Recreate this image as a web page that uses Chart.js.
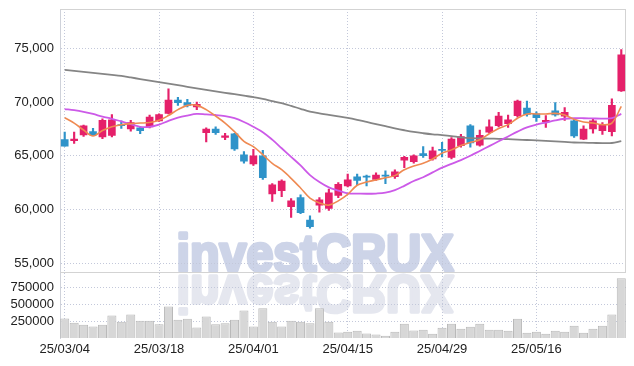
<!DOCTYPE html>
<html>
<head>
<meta charset="utf-8">
<script src="https://cdn.jsdelivr.net/npm/chart.js@4"></script>
<style>
  html, body { margin: 0; padding: 0; background: #fff; }
  canvas { display: block; }
</style>
</head>
<body>
<canvas id="stock-chart" width="634" height="366"></canvas>
<script>
// trading days shown on the x axis
const dates = [
  '25/03/04', '25/03/05', '25/03/06', '25/03/07', '25/03/10', '25/03/11', '25/03/12', '25/03/13', '25/03/14', '25/03/17',
  '25/03/18', '25/03/19', '25/03/20', '25/03/21', '25/03/24', '25/03/25', '25/03/26', '25/03/27', '25/03/28', '25/03/31',
  '25/04/01', '25/04/02', '25/04/03', '25/04/04', '25/04/07', '25/04/08', '25/04/09', '25/04/10', '25/04/11', '25/04/14',
  '25/04/15', '25/04/16', '25/04/17', '25/04/18', '25/04/21', '25/04/22', '25/04/23', '25/04/24', '25/04/25', '25/04/28',
  '25/04/29', '25/04/30', '25/05/02', '25/05/07', '25/05/08', '25/05/09', '25/05/12', '25/05/13', '25/05/14', '25/05/15',
  '25/05/16', '25/05/19', '25/05/20', '25/05/21', '25/05/22', '25/05/23', '25/05/26', '25/05/27', '25/05/28', '25/05/29'
];

const opens = [
  66500, 66400, 66950, 67250, 66750, 66900, 67900, 67500, 67600, 67700,
  68250, 68950, 70200, 69950, 69550, 67150, 67500, 66700, 67050, 65100,
  64250, 65000, 61450, 61750, 60250, 61100, 59000, 60400, 60100, 61300,
  62200, 63050, 63100, 62800, 63200, 63050, 64600, 64450, 65200, 64700,
  65600, 64850, 65950, 67800, 66000, 67200, 67800, 68000, 68750, 69450,
  68900, 68150, 69200, 68700, 68250, 66550, 67500, 67350, 67250, 71050
];
const highs = [
  67200, 67200, 67850, 67550, 68450, 68850, 68250, 68300, 67650, 68800,
  68900, 71250, 70450, 70250, 70000, 67600, 67700, 67100, 67100, 65400,
  65600, 65500, 62400, 62750, 61000, 61350, 59400, 61100, 61900, 62500,
  63300, 63300, 63200, 63400, 63600, 63700, 64950, 65100, 65850, 65800,
  66250, 66700, 67000, 67900, 67400, 68350, 69050, 68800, 70200, 70100,
  69100, 68750, 69950, 69500, 68500, 67800, 68400, 68100, 70300, 74900
];
const lows = [
  65900, 66150, 66800, 66900, 66600, 66750, 67550, 67300, 67050, 67600,
  68200, 68900, 69700, 69550, 69300, 66300, 67000, 66500, 65500, 64300,
  64100, 62800, 60750, 61200, 59250, 59600, 58250, 59750, 59900, 61100,
  62100, 62300, 62200, 62700, 62400, 62900, 63900, 64300, 64850, 64600,
  64900, 64700, 65800, 65800, 65900, 67100, 67700, 67650, 68600, 68700,
  68200, 67650, 68700, 68300, 66700, 66500, 67100, 67000, 66850, 71000
];
const closes = [
  65900, 66550, 67800, 66950, 68300, 68350, 67800, 68100, 67350, 68600,
  68850, 70200, 69950, 69700, 69800, 67500, 67150, 66850, 65650, 64500,
  65000, 62950, 62300, 62650, 60800, 59700, 58400, 60900, 61550, 62350,
  62750, 62700, 63000, 63200, 63100, 63500, 64850, 65000, 65000, 65450,
  65500, 66550, 66800, 66200, 66900, 67700, 68700, 68350, 70100, 68850,
  68550, 68300, 68800, 69050, 66850, 67500, 68250, 67900, 69700, 74400
];

// moving averages as drawn (short / mid / long)
const maShort = [
  68550, 68050, 67400, 66850, 67350, 67700, 67900, 68000, 68050, 68100,
  68300, 68750, 69300, 69700, 69700, 69300, 68700, 68050, 67250, 66350,
  65850, 65100, 64300, 63700, 62900, 62000, 61050, 60600, 60400, 60800,
  61400, 62250, 62550, 62750, 62950, 63150, 63700, 64050, 64300, 64700,
  65250, 65550, 65950, 66250, 66500, 67050, 67550, 67900, 68500, 68900,
  68900, 68900, 68950, 68800, 68400, 68150, 68050, 67900, 68050, 69600
];
const maMid = [
  69350, 69250, 69100, 68900, 68650, 68450, 68200, 67950, 67700, 67700,
  67900, 68250, 68550, 68750, 68900, 68850, 68800, 68700, 68500, 68150,
  67700, 67200, 66500, 65700, 64900, 64100, 63200, 62550, 62050, 61750,
  61500, 61480, 61460, 61480, 61560, 61800, 62200, 62650, 63000, 63450,
  63900, 64250, 64600, 65000, 65450, 65900, 66350, 66800, 67250, 67650,
  67900, 68100, 68300, 68450, 68500, 68500, 68480, 68470, 68500, 68900
];
const maLong = [
  73000, 72910, 72820, 72720, 72630, 72540, 72440, 72300, 72150, 72010,
  71860, 71720, 71580, 71430, 71290, 71140, 71000, 70870, 70740, 70600,
  70470, 70300, 70100, 69900, 69650, 69380, 69120, 68960, 68820, 68680,
  68530, 68350, 68150, 67950, 67760, 67560, 67380, 67220, 67100, 67000,
  66930, 66840, 66720, 66640, 66620, 66600, 66580, 66550, 66510, 66470,
  66430, 66390, 66340, 66290, 66240, 66220, 66200, 66180, 66190, 66360
];

const volumes = [
  290000, 227000, 197000, 172000, 197000, 332000, 242000, 347000, 257000, 257000,
  202000, 466000, 272000, 287000, 157000, 317000, 202000, 217000, 272000, 406000,
  172000, 441000, 242000, 172000, 257000, 242000, 217000, 441000, 242000, 82000,
  92000, 107000, 67000, 52000, 32000, 92000, 212000, 112000, 122000, 62000,
  152000, 212000, 137000, 167000, 212000, 122000, 122000, 107000, 287000, 77000,
  92000, 62000, 107000, 92000, 182000, 77000, 137000, 182000, 347000, 885000
];

const priceTicks = [55000, 60000, 65000, 70000, 75000];
const volumeTicks = [250000, 500000, 750000];

document.addEventListener("DOMContentLoaded", function() {
  const UP = '#e5206a';
  const DOWN = '#2f93c9';
  const GRID = '#c3c8da';
  const FONT = { family: '"Liberation Sans", Arial, sans-serif', size: 13 };

  const candleColors = closes.map(function(c, i) { return c >= opens[i] ? UP : DOWN; });

  // no extra room for half tick labels, the frame sits on the padding
  function noPad(scale) {
    scale.paddingTop = 0;
    scale.paddingBottom = 0;
    scale.paddingLeft = 0;
    scale.paddingRight = 0;
  }

  // investCRUX watermark (under the grid) and the frame lines
  const backdrop = {
    id: 'backdrop',
    beforeDraw: function(chart) {
      const ctx = chart.ctx;
      const base = chart.scales.price.bottom;
      const text = 'investCRUX';
      ctx.save();
      ctx.font = 'bold 52px "Liberation Sans", Arial, sans-serif';
      const w = ctx.measureText(text).width;
      ctx.translate(315, base);
      ctx.scale(277 / w, 1);
      ctx.textAlign = 'center';
      ctx.textBaseline = 'alphabetic';
      ctx.lineJoin = 'round';
      ctx.lineWidth = 3.5;
      ctx.fillStyle = ctx.strokeStyle = '#cdd4e8';
      ctx.fillText(text, 0, -1.5);
      ctx.strokeText(text, 0, -1.5);

      ctx.scale(1, -1);
      ctx.fillStyle = ctx.strokeStyle = '#e5e7ef';
      ctx.fillText(text, 0, -3.5);
      ctx.strokeText(text, 0, -3.5);
      ctx.restore();
    },
    beforeDatasetsDraw: function(chart) {
      const ctx = chart.ctx;
      const area = chart.chartArea;
      const base = Math.round(chart.scales.price.bottom) + 0.5;
      ctx.save();
      ctx.strokeStyle = '#d3d3d3';
      ctx.lineWidth = 1;
      ctx.beginPath();
      ctx.moveTo(area.left, area.top + 0.5);
      ctx.lineTo(area.right, area.top + 0.5);
      ctx.moveTo(area.right - 0.5, area.top);
      ctx.lineTo(area.right - 0.5, base);
      ctx.moveTo(area.left, base);
      ctx.lineTo(area.right, base);
      ctx.stroke();
      ctx.restore();
    }
  };

  const ctx = document.getElementById('stock-chart').getContext('2d');
  new Chart(ctx, {
    data: {
      labels: dates,
      datasets: [
        {
          type: 'line', label: 'MA short', data: maShort, yAxisID: 'price',
          borderColor: '#ef8a52', borderWidth: 1.6, pointRadius: 0, tension: 0.35, order: 0
        },
        {
          type: 'line', label: 'MA mid', data: maMid, yAxisID: 'price',
          borderColor: '#cc5ae8', borderWidth: 1.8, pointRadius: 0, tension: 0.35, order: 0
        },
        {
          type: 'line', label: 'MA long', data: maLong, yAxisID: 'price',
          borderColor: '#858585', borderWidth: 1.8, pointRadius: 0, tension: 0.35, order: 0
        },
        {
          type: 'bar', label: 'body', yAxisID: 'price',
          data: opens.map(function(o, i) { return [o, closes[i]]; }),
          backgroundColor: candleColors, barThickness: 7, grouped: false, order: 1
        },
        {
          type: 'bar', label: 'wick', yAxisID: 'price',
          data: lows.map(function(l, i) { return [l, highs[i]]; }),
          backgroundColor: candleColors, barThickness: 1.5, grouped: false, order: 2
        },
        {
          type: 'bar', label: 'volume', yAxisID: 'vol', data: volumes,
          backgroundColor: '#d7d7d7', borderColor: '#b9b9b9', borderWidth: 1,
          barPercentage: 1, categoryPercentage: 0.96, grouped: false, order: 3
        }
      ]
    },
    options: {
      responsive: false,
      devicePixelRatio: 1,
      animation: false,
      layout: { padding: { top: 9, right: 8, left: 0, bottom: 0 } },
      plugins: { legend: { display: false }, tooltip: { enabled: false } },
      scales: {
        x: {
          type: 'category',
          offset: true,
          afterFit: function(scale) { noPad(scale); scale.height = 28; },
          grid: {
            offset: false, drawTicks: false, lineWidth: 1,
            color: function(c) { return c.index % 10 === 0 ? GRID : 'transparent'; }
          },
          border: { display: false, dash: [1, 2] },
          ticks: {
            autoSkip: false, maxRotation: 0, padding: 4, color: '#222', font: FONT,
            callback: function(v, i) { return i % 10 === 0 ? dates[i] : ''; }
          }
        },
        vol: {
          type: 'linear', position: 'left', stack: 'panels', stackWeight: 1, weight: 1,
          min: 0, max: 975000,
          afterFit: function(scale) { noPad(scale); scale.width = 60; },
          afterBuildTicks: function(scale) { scale.ticks = volumeTicks.map(function(v) { return { value: v }; }); },
          grid: { color: GRID, drawTicks: false },
          border: { color: '#cfd2da', dash: [1, 2] },
          ticks: {
            autoSkip: false, padding: 6, color: '#222', font: FONT,
            callback: function(v) { return String(v); }
          }
        },
        price: {
          type: 'linear', position: 'left', stack: 'panels', stackWeight: 4, weight: 2,
          min: 54150, max: 78680,
          afterFit: function(scale) { noPad(scale); scale.width = 60; },
          afterBuildTicks: function(scale) { scale.ticks = priceTicks.map(function(v) { return { value: v }; }); },
          grid: { color: GRID, drawTicks: false },
          border: { color: '#cfd2da', dash: [1, 2] },
          ticks: {
            autoSkip: false, padding: 6, color: '#222', font: FONT,
            callback: function(v) { return v.toLocaleString('en-US'); }
          }
        }
      }
    },
    plugins: [backdrop]
  });
});
</script>
</body>
</html>
